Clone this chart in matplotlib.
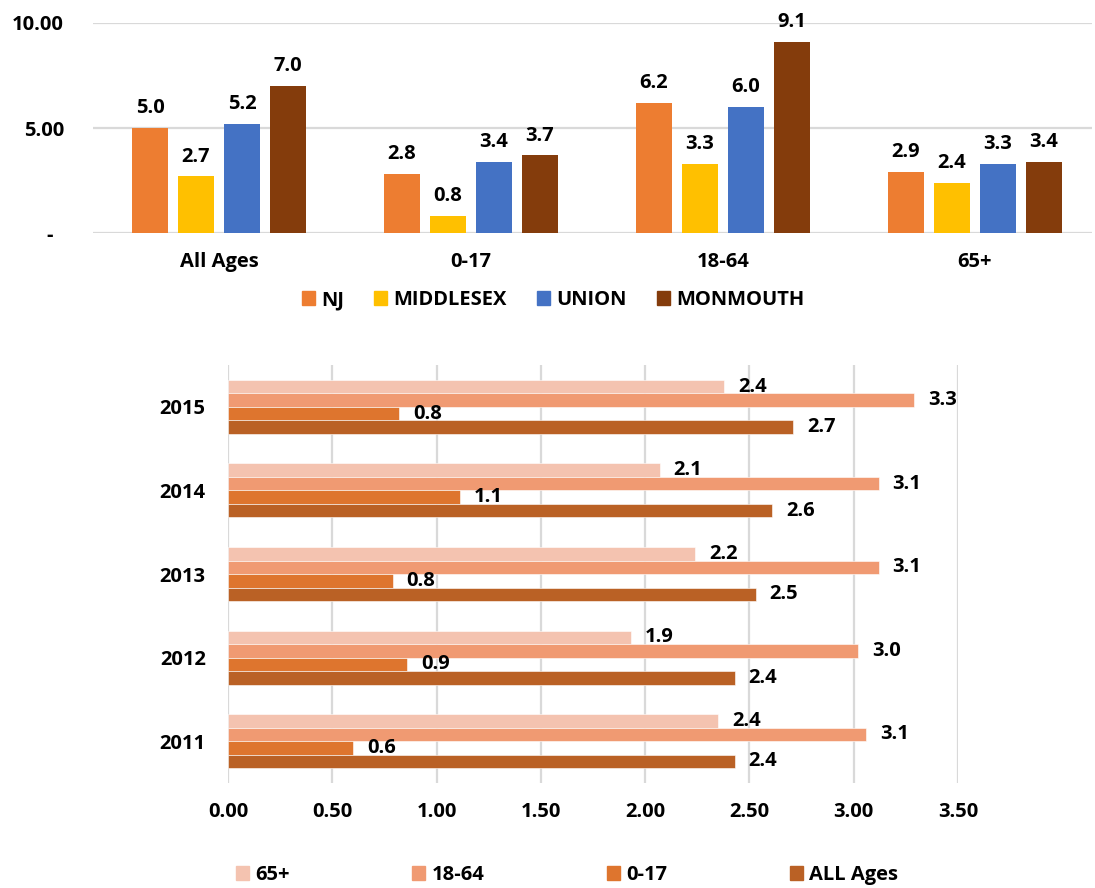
import matplotlib
matplotlib.use("Agg")
import matplotlib.pyplot as plt
from matplotlib.patches import Patch
import numpy as np

plt.rcParams['font.family'] = ['Open Sans', 'DejaVu Sans']
plt.rcParams['font.weight'] = 'bold'

# ---- Top chart data ----
age_groups = ["All Ages", "0-17", "18-64", "65+"]
counties = ["NJ", "MIDDLESEX", "UNION", "MONMOUTH"]
nj = [5.0, 2.8, 6.2, 2.9]
middlesex = [2.7, 0.8, 3.3, 2.4]
union = [5.2, 3.4, 6.0, 3.3]
monmouth = [7.0, 3.7, 9.1, 3.4]
top_colors = ["#ED7D31", "#FFC000", "#4472C4", "#843C0C"]
top_yticks = [0, 5, 10]
top_yticklabels = ["-  ", "5.00", "10.00"]

# ---- Bottom chart data ----
years = ["2011", "2012", "2013", "2014", "2015"]
ages_65p = [2.35, 1.93, 2.24, 2.07, 2.38]
ages_18_64 = [3.06, 3.02, 3.12, 3.12, 3.29]
ages_0_17 = [0.60, 0.86, 0.79, 1.11, 0.82]
all_ages = [2.43, 2.43, 2.53, 2.61, 2.71]
bottom_names = ["65+", "18-64", "0-17", "ALL Ages"]
bottom_colors = ["#F4C3B0", "#F09A72", "#DE752E", "#BA6125"]
bottom_xticks = [0, 0.5, 1.0, 1.5, 2.0, 2.5, 3.0, 3.5]

FS = 14.5
GRID = "#D9D9D9"
W, H = 1095, 888
fig = plt.figure(figsize=(W / 100, H / 100), dpi=100)

def px_axes(left, top, right, bottom):
    return fig.add_axes([left / W, (H - bottom) / H, (right - left) / W, (bottom - top) / H])

# ---------- Top grouped column chart ----------
ax1 = px_axes(93, 23, 1092, 233)
x = np.arange(len(age_groups))
series = [nj, middlesex, union, monmouth]
step = 46 / 252
bw = 36 / 252
for i, (vals, col, name) in enumerate(zip(series, top_colors, counties)):
    pos = x + (i - 1.5) * step
    ax1.bar(pos, vals, width=bw, color=col, label=name, zorder=3)
    for xx, v in zip(pos, vals):
        ax1.annotate(f"{v:.1f}", (xx, v), xytext=(0, 7), textcoords="offset points",
                     ha="center", va="bottom", fontsize=FS, fontweight="bold",
                     annotation_clip=False)
ax1.set_xlim(-0.5, -0.5 + 999 / 252)
ax1.set_ylim(0, 10)
ax1.set_yticks(top_yticks)
ax1.set_yticklabels(top_yticklabels)
ax1.set_xticks(x)
ax1.set_xticklabels(age_groups)
ax1.grid(axis="y", color=GRID, linewidth=1.6, zorder=0)
ax1.set_axisbelow(True)
for s in ax1.spines.values():
    s.set_visible(False)
ax1.tick_params(axis="both", length=0, labelsize=FS)
ax1.tick_params(axis="y", pad=21)
ax1.tick_params(axis="x", pad=14)
for lab in ax1.get_xticklabels() + ax1.get_yticklabels():
    lab.set_fontweight("bold")

handles1 = [Patch(color=c, label=n) for c, n in zip(top_colors, counties)]
fig.legend(handles=handles1, loc="center", bbox_to_anchor=(553 / W, (H - 300) / H),
           ncol=4, frameon=False, handlelength=0.65, handleheight=0.65,
           handletextpad=0.3, columnspacing=1.5, prop={"weight": "bold", "size": FS})

# ---------- Bottom horizontal bar chart ----------
ax2 = px_axes(228, 365, 958, 783)
y = np.arange(len(years))
bh = 13.5 / 83.6
bseries = [ages_65p, ages_18_64, ages_0_17, all_ages]
offsets = [1.5, 0.5, -0.5, -1.5]
for vals, col, name, off in zip(bseries, bottom_colors, bottom_names, offsets):
    pos = y + off * bh
    ax2.barh(pos, vals, height=bh, color=col, label=name, zorder=3,
             edgecolor="white", linewidth=0.4)
    for yy, v in zip(pos, vals):
        ax2.annotate(f"{v:.1f}", (v, yy), xytext=(10, 0), textcoords="offset points",
                     ha="left", va="center", fontsize=FS, fontweight="bold",
                     annotation_clip=False)
ax2.set_xlim(0, 3.5)
ax2.set_ylim(-0.5, 4.5)
ax2.set_yticks(y)
ax2.set_yticklabels(years)
ax2.set_xticks(bottom_xticks)
ax2.set_xticklabels([f"{t:.2f}" for t in bottom_xticks])
ax2.grid(axis="x", color=GRID, linewidth=1.6, zorder=0)
ax2.set_axisbelow(True)
for s in ax2.spines.values():
    s.set_visible(False)
ax2.tick_params(axis="both", length=0, labelsize=FS)
ax2.tick_params(axis="y", pad=16)
ax2.tick_params(axis="x", pad=14)
for lab in ax2.get_xticklabels() + ax2.get_yticklabels():
    lab.set_fontweight("bold")

handles2 = [Patch(color=c, label=n) for c, n in zip(bottom_colors, bottom_names)]
fig.legend(handles=handles2, loc="center", bbox_to_anchor=(567 / W, (H - 875) / H),
           ncol=4, frameon=False, handlelength=0.65, handleheight=0.65,
           handletextpad=0.3, columnspacing=6.1, prop={"weight": "bold", "size": FS})

fig.savefig("out.png", dpi=100)
